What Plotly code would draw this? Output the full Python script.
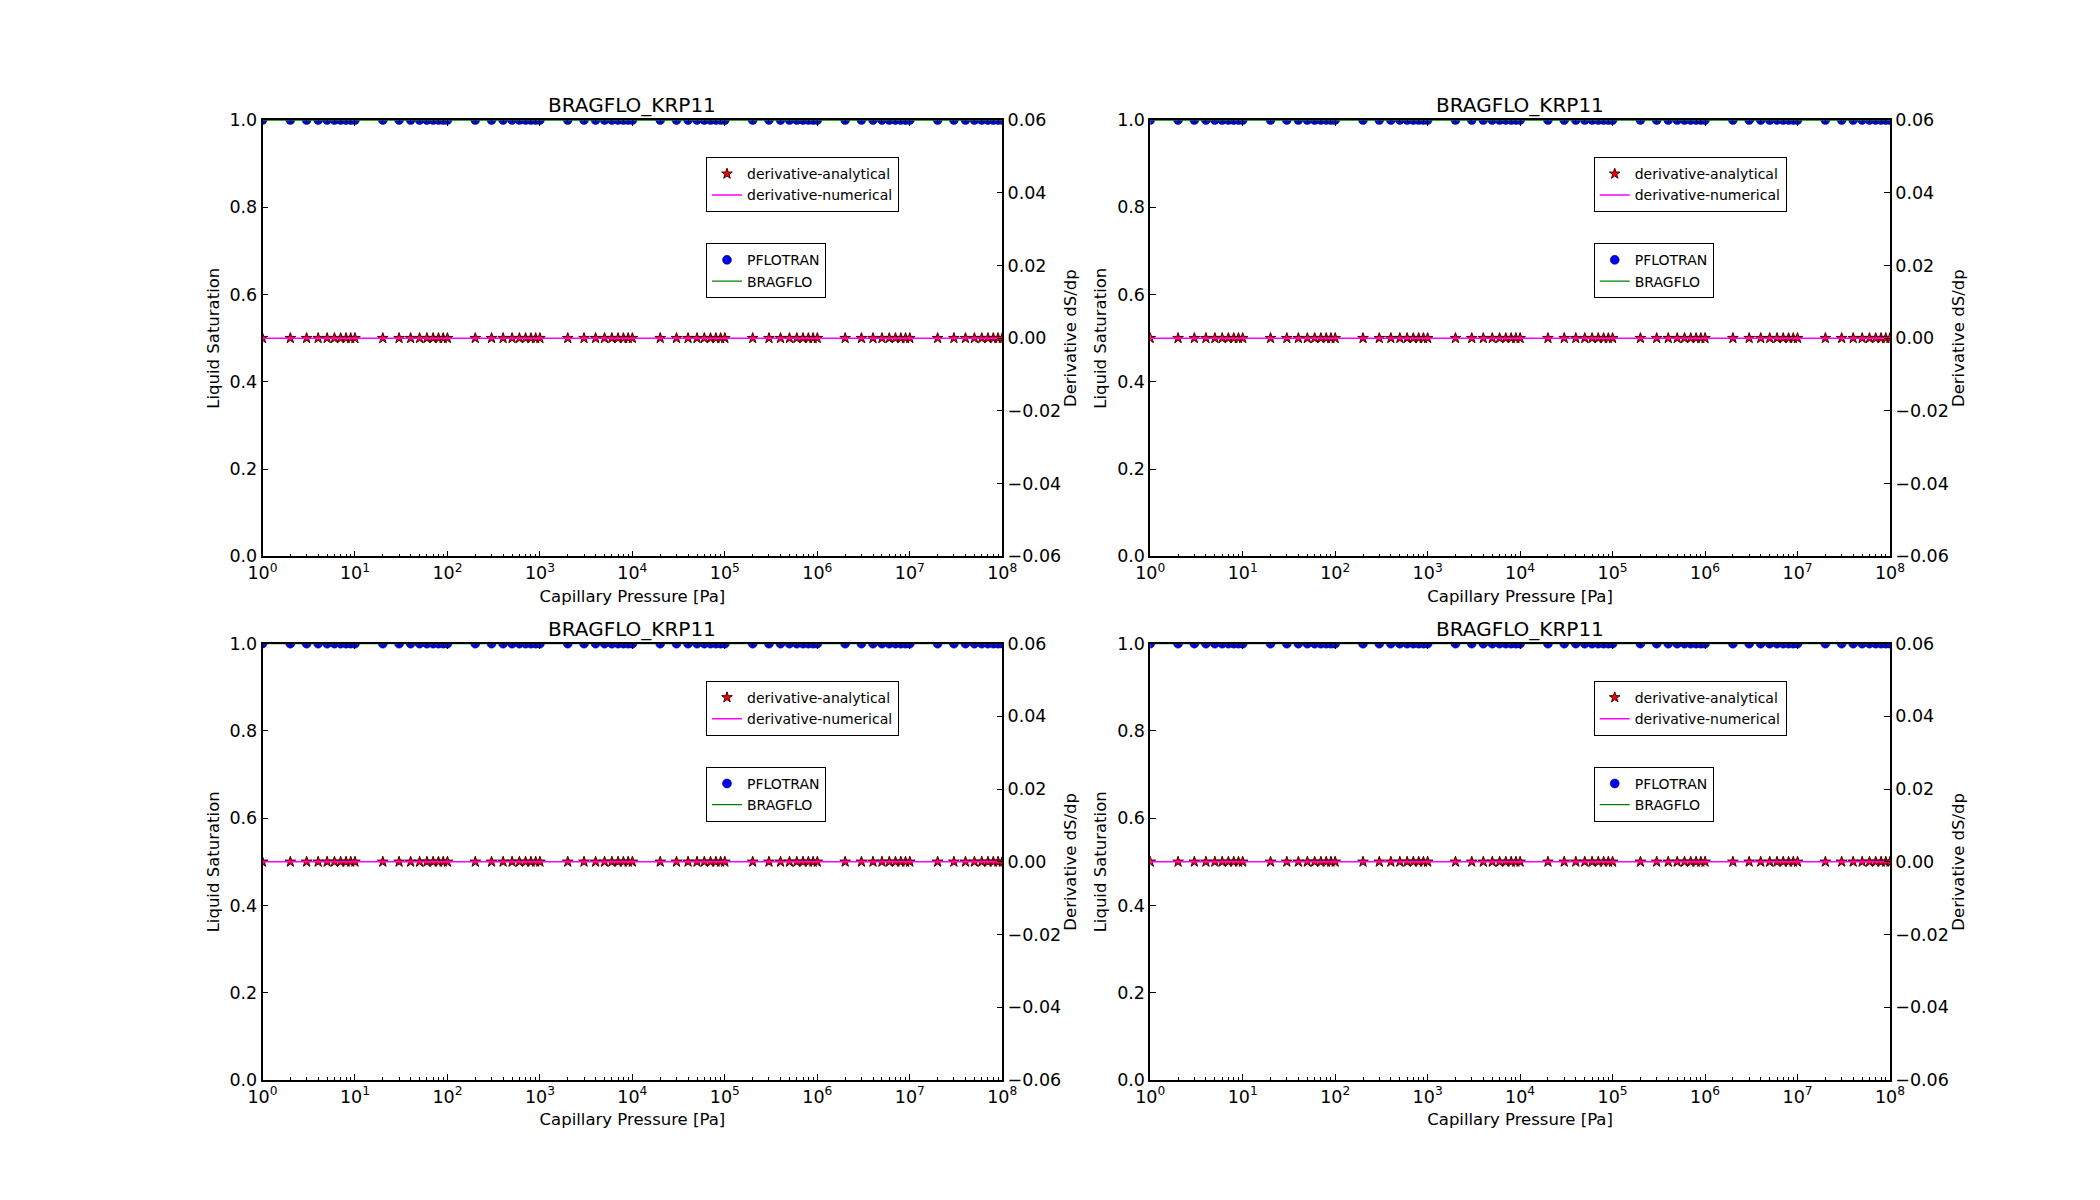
import plotly.graph_objects as go

# capillary pressure sample points [Pa]
pressure = [
    1, 2, 3, 4, 5, 6, 7, 8, 9,
    10, 20, 30, 40, 50, 60, 70, 80, 90,
    100, 200, 300, 400, 500, 600, 700, 800, 900,
    1e3, 2e3, 3e3, 4e3, 5e3, 6e3, 7e3, 8e3, 9e3,
    1e4, 2e4, 3e4, 4e4, 5e4, 6e4, 7e4, 8e4, 9e4,
    1e5, 2e5, 3e5, 4e5, 5e5, 6e5, 7e5, 8e5, 9e5,
    1e6, 2e6, 3e6, 4e6, 5e6, 6e6, 7e6, 8e6, 9e6,
    1e7, 2e7, 3e7, 4e7, 5e7, 6e7, 7e7, 8e7, 9e7,
    1e8,
]
sat_pflotran = [
    1.0, 1.0, 1.0, 1.0, 1.0, 1.0, 1.0, 1.0, 1.0,
    1.0, 1.0, 1.0, 1.0, 1.0, 1.0, 1.0, 1.0, 1.0,
    1.0, 1.0, 1.0, 1.0, 1.0, 1.0, 1.0, 1.0, 1.0,
    1.0, 1.0, 1.0, 1.0, 1.0, 1.0, 1.0, 1.0, 1.0,
    1.0, 1.0, 1.0, 1.0, 1.0, 1.0, 1.0, 1.0, 1.0,
    1.0, 1.0, 1.0, 1.0, 1.0, 1.0, 1.0, 1.0, 1.0,
    1.0, 1.0, 1.0, 1.0, 1.0, 1.0, 1.0, 1.0, 1.0,
    1.0, 1.0, 1.0, 1.0, 1.0, 1.0, 1.0, 1.0, 1.0,
    1.0,
]
sat_bragflo = list(sat_pflotran)
deriv_analytical = [
    0.0, 0.0, 0.0, 0.0, 0.0, 0.0, 0.0, 0.0, 0.0,
    0.0, 0.0, 0.0, 0.0, 0.0, 0.0, 0.0, 0.0, 0.0,
    0.0, 0.0, 0.0, 0.0, 0.0, 0.0, 0.0, 0.0, 0.0,
    0.0, 0.0, 0.0, 0.0, 0.0, 0.0, 0.0, 0.0, 0.0,
    0.0, 0.0, 0.0, 0.0, 0.0, 0.0, 0.0, 0.0, 0.0,
    0.0, 0.0, 0.0, 0.0, 0.0, 0.0, 0.0, 0.0, 0.0,
    0.0, 0.0, 0.0, 0.0, 0.0, 0.0, 0.0, 0.0, 0.0,
    0.0, 0.0, 0.0, 0.0, 0.0, 0.0, 0.0, 0.0, 0.0,
    0.0,
]
deriv_numerical = list(deriv_analytical)

panel_titles = ["BRAGFLO_KRP11", "BRAGFLO_KRP11", "BRAGFLO_KRP11", "BRAGFLO_KRP11"]
xtick_vals = [1, 10, 100, 1e3, 1e4, 1e5, 1e6, 1e7, 1e8]
xtick_text = ["10<sup>0</sup>", "10<sup>1</sup>", "10<sup>2</sup>", "10<sup>3</sup>",
              "10<sup>4</sup>", "10<sup>5</sup>", "10<sup>6</sup>", "10<sup>7</sup>",
              "10<sup>8</sup>"]
sat_ticks = [0.0, 0.2, 0.4, 0.6, 0.8, 1.0]
deriv_ticks = [-0.06, -0.04, -0.02, 0.0, 0.02, 0.04, 0.06]
minor_vals = [p for p in pressure if p not in xtick_vals]

FONT = "DejaVu Sans"
W, H = 2100, 1200
# the page body adds an 8px offset; pull the grid back by that much
dx, dy = 8 / W, 8 / H
# matplotlib-like subplot grid (left .125, right .9, bottom .1, top .9, spacing .2)
x_domains = [[0.125 - dx, 0.47727 - dx], [0.54773 - dx, 0.9 - dx]]
y_domains = [[0.53636 + dy, 0.9 + dy], [0.1 + dy, 0.46364 + dy]]

fig = go.Figure()
layout = {}
annotations = []

for i in range(4):
    r, c = divmod(i, 2)
    xd, yd = x_domains[c], y_domains[r]
    n = i + 1
    xa = "x" if n == 1 else f"x{n}"
    ya1 = f"y{2*i+1}" if i > 0 else "y"
    ya2 = f"y{2*i+2}"
    leg_d = "legend" if i == 0 else f"legend{2*i+1}"
    leg_s = f"legend{2*i+2}"

    fig.add_trace(go.Scatter(x=pressure, y=sat_pflotran, mode="markers", name="PFLOTRAN",
                             marker=dict(color="blue", size=9, line=dict(color="black", width=0.5)),
                             xaxis=xa, yaxis=ya1, legend=leg_s))
    fig.add_trace(go.Scatter(x=pressure, y=sat_bragflo, mode="lines", name="BRAGFLO",
                             line=dict(color="green", width=1.3),
                             xaxis=xa, yaxis=ya1, legend=leg_s))
    fig.add_trace(go.Scatter(x=pressure, y=deriv_analytical, mode="markers", name="derivative-analytical",
                             marker=dict(symbol="star", color="red", size=8, line=dict(color="#400000", width=1)),
                             xaxis=xa, yaxis=ya2, legend=leg_d))
    fig.add_trace(go.Scatter(x=pressure, y=deriv_numerical, mode="lines", name="derivative-numerical",
                             line=dict(color="magenta", width=1.5),
                             xaxis=xa, yaxis=ya2, legend=leg_d))

    axline = dict(showline=True, linecolor="black", linewidth=1.5, showgrid=False, zeroline=False,
                  ticks="inside", tickcolor="black", tickwidth=1, ticklen=6, automargin=False,
                  tickfont=dict(family=FONT, size=17.5, color="black"))
    layout["xaxis" if n == 1 else f"xaxis{n}"] = dict(
        axline, domain=xd, anchor=ya1, type="log", range=[0, 8],
        tickmode="array", tickvals=xtick_vals, ticktext=xtick_text, mirror="ticks",
        minor=dict(tickmode="array", tickvals=minor_vals, ticks="inside", ticklen=3,
                   tickcolor="black", tickwidth=1, showgrid=False),
        title=dict(text="Capillary Pressure [Pa]", font=dict(family=FONT, size=16.5, color="black"),
                   standoff=8))
    layout["yaxis" if i == 0 else f"yaxis{2*i+1}"] = dict(
        axline, domain=yd, anchor=xa, range=[0, 1], tickmode="array", tickvals=sat_ticks,
        tickformat=".1f",
        title=dict(text="Liquid Saturation", font=dict(family=FONT, size=16.5, color="black"),
                   standoff=6))
    layout[f"yaxis{2*i+2}"] = dict(
        axline, overlaying=ya1, side="right", anchor=xa, range=[-0.06, 0.06],
        tickmode="array", tickvals=deriv_ticks, tickformat=".2f",
        title=dict(text="Derivative dS/dp", font=dict(family=FONT, size=16.5, color="black"),
                   standoff=1))

    legbox = dict(bgcolor="white", bordercolor="black", borderwidth=1,
                  font=dict(family=FONT, size=14, color="black"),
                  xanchor="left", yanchor="top", itemwidth=30)
    lx = xd[0] + 0.21119
    layout[leg_d] = dict(legbox, x=lx, y=yd[1] - 0.031)
    layout[leg_s] = dict(legbox, x=lx, y=yd[1] - 0.1027)

    annotations.append(dict(text=panel_titles[i], x=(xd[0] + xd[1]) / 2, y=yd[1],
                            xref="paper", yref="paper", xanchor="center", yanchor="bottom",
                            showarrow=False, yshift=1,
                            font=dict(family=FONT, size=20, color="black")))

fig.update_layout(**layout)
fig.update_layout(width=W, height=H, margin=dict(l=0, r=0, t=0, b=0, autoexpand=False),
                  paper_bgcolor="white", plot_bgcolor="white",
                  annotations=annotations, showlegend=True)

fig.write_html("out.html")
